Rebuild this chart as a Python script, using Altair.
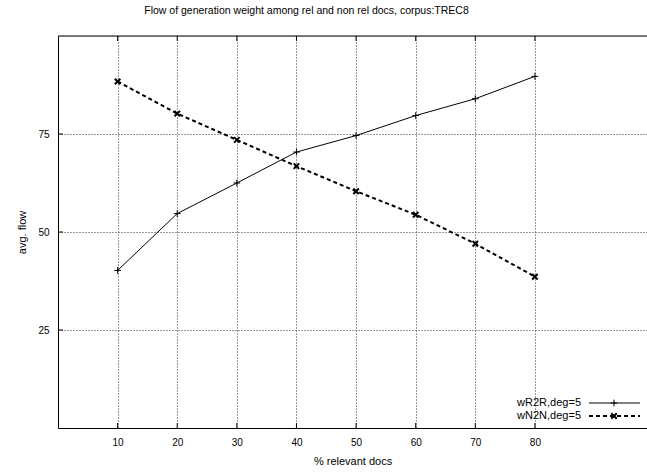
import altair as alt
import pandas as pd

# ---- data ----
pct_relevant = [10, 20, 30, 40, 50, 60, 70, 80]
w_r2r = [40.2, 54.7, 62.5, 70.4, 74.6, 79.7, 84.0, 89.7]
w_n2n = [88.4, 80.2, 73.5, 66.8, 60.4, 54.4, 47.0, 38.6]
series_names = ["wR2R,deg=5", "wN2N,deg=5"]
x_tick_values = [10, 20, 30, 40, 50, 60, 70, 80]
y_tick_values = [25, 50, 75]
title_text = "Flow of generation weight among rel and non rel docs, corpus:TREC8"

W, H = 589, 392
FONT = "Liberation Sans"

df_r = pd.DataFrame({"x": pct_relevant, "y": w_r2r, "series": series_names[0]})
df_n = pd.DataFrame({"x": pct_relevant, "y": w_n2n, "series": series_names[1]})
df_xt = pd.DataFrame({"x": x_tick_values})
df_yt = pd.DataFrame({"y": y_tick_values})

xscale = alt.Scale(domain=[0, 98.8], nice=False, zero=False)
yscale = alt.Scale(domain=[0, 100], nice=False, zero=False)

X = alt.X("x:Q", scale=xscale,
          axis=alt.Axis(values=x_tick_values, grid=True, gridDash=[1, 2], gridColor="#333",
                        gridWidth=1, tickSize=0, labelPadding=9, domainColor="black",
                        domainWidth=1, title="% relevant docs", titlePadding=8,
                        titleFontWeight="normal", titleFont=FONT, titleFontSize=11))
Y = alt.Y("y:Q", scale=yscale,
          axis=alt.Axis(values=y_tick_values, grid=True, gridDash=[1, 2], gridColor="#333",
                        gridWidth=1, tickSize=0, labelPadding=9, domainColor="black",
                        domainWidth=1, title="avg. flow", titlePadding=10,
                        titleFontWeight="normal", titleFont=FONT, titleFontSize=11))

PLUS = "M-1,0L1,0M0,-1L0,1"
CROSS = "M-1,-1L1,1M-1,1L1,-1"

line_r = alt.Chart(df_r).mark_line(color="black", strokeWidth=1).encode(x=X, y=Y)
pts_r = alt.Chart(df_r).mark_point(shape=PLUS, size=45, color="black", strokeWidth=1,
                                   filled=False, opacity=1).encode(x="x:Q", y="y:Q")
line_n = alt.Chart(df_n).mark_line(color="black", strokeWidth=2, strokeDash=[4, 3]).encode(x="x:Q", y="y:Q")
pts_n = alt.Chart(df_n).mark_point(shape=CROSS, size=30, color="black", strokeWidth=2,
                                   filled=False, opacity=1).encode(x="x:Q", y="y:Q")

# inward ticks (gnuplot style)
tick_bottom = alt.Chart(df_xt).mark_rule(color="black", strokeWidth=1).encode(
    x="x:Q", y=alt.value(H), y2=alt.value(H - 5))
tick_top = alt.Chart(df_xt).mark_rule(color="black", strokeWidth=1).encode(
    x="x:Q", y=alt.value(0), y2=alt.value(5))
tick_left = alt.Chart(df_yt).mark_rule(color="black", strokeWidth=1).encode(
    y="y:Q", x=alt.value(0), x2=alt.value(5))
top_border = alt.Chart(df_yt.head(1)).mark_rule(color="black", strokeWidth=1).encode(
    x=alt.value(0), x2=alt.value(W), y=alt.value(0))

# legend (bottom right)
legend_layers = []
dashes = [[1, 0], [4, 3]]
widths = [1, 2]
shapes = [PLUS, CROSS]
sizes = [45, 30]
for i, name in enumerate(series_names):
    row = pd.DataFrame({"label": [name]})
    yy = 367 + 13 * i
    legend_layers.append(alt.Chart(row).mark_text(align="right", baseline="middle", font=FONT,
                                                  fontSize=11, color="black").encode(
        text="label:N", x=alt.value(523), y=alt.value(yy)))
    legend_layers.append(alt.Chart(row).mark_rule(color="black", strokeWidth=widths[i],
                                                  strokeDash=dashes[i]).encode(
        x=alt.value(531), x2=alt.value(582), y=alt.value(yy)))
    legend_layers.append(alt.Chart(row).mark_point(shape=shapes[i], size=sizes[i], color="black",
                                                   strokeWidth=widths[i], filled=False, opacity=1).encode(
        x=alt.value(556), y=alt.value(yy)))

chart = alt.layer(
    line_r, pts_r, line_n, pts_n, tick_bottom, tick_top, tick_left, top_border, *legend_layers
).properties(
    width=W, height=H,
    title=alt.TitleParams(title_text, font=FONT, fontSize=10.5, fontWeight="normal",
                          color="black", anchor="middle", frame="group", dx=-46, offset=19),
    padding={"left": 58, "top": 36, "right": 0, "bottom": 45},
    autosize=alt.AutoSizeParams(type="none"),
).configure_view(stroke=None).configure_axis(
    labelFont=FONT, labelFontSize=11, labelColor="black",
    titleFont=FONT, titleFontSize=11, titleFontWeight="normal", titleColor="black",
).configure(background="white")

chart.save("out.html", embed_options={"renderer": "svg", "actions": False})
